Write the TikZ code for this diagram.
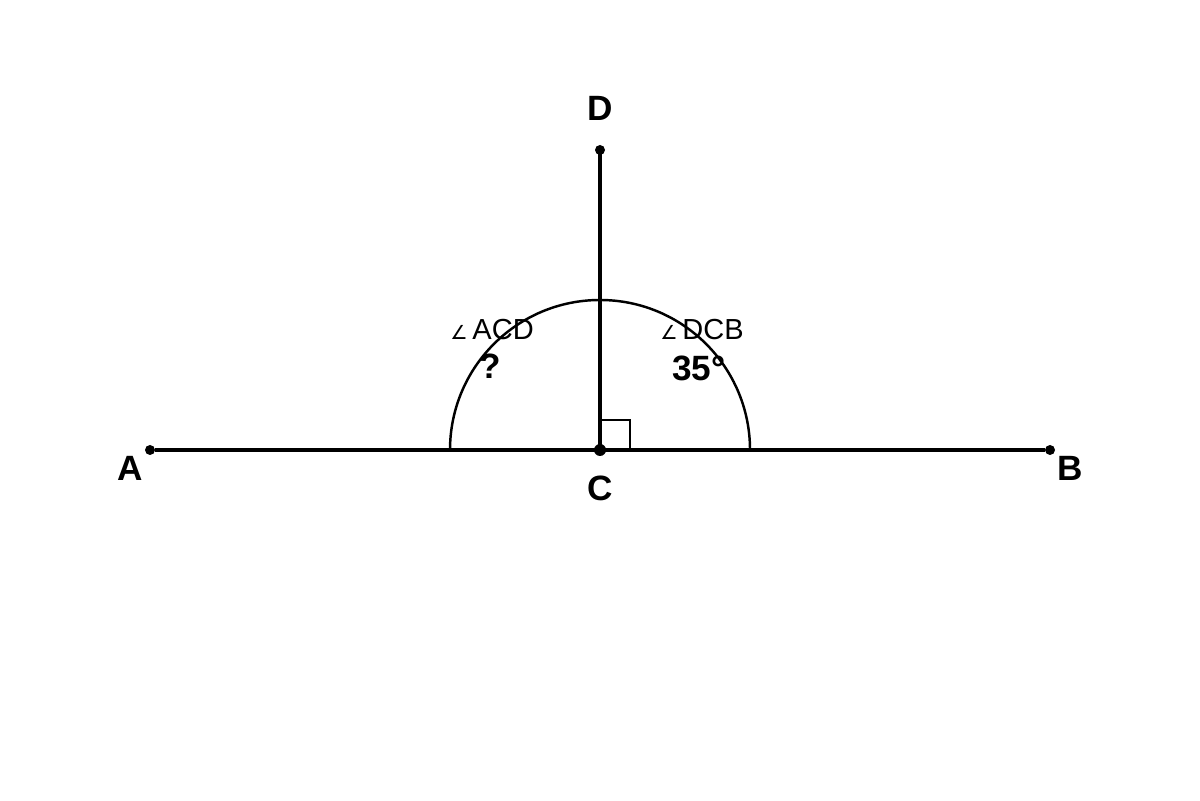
\documentclass[tikz,border=0pt]{standalone}
\usepackage{fontspec}
\setmainfont{Liberation Sans}
\newfontfamily\symfont{DejaVu Sans}
\usepackage{tikz}

\begin{document}
\begin{tikzpicture}[pt/.style={circle,fill=black,inner sep=0pt,minimum size=0.2cm},
    lbl/.style={font=\fontsize{20}{23}\selectfont\bfseries},
    ang/.style={font=\fontsize{16.5}{19}\selectfont}]

    \useasboundingbox (0,0) rectangle (24,16);

    % Nodes
    \node[pt] (a) at (3,7) {};
    \node[pt] (b) at (21,7) {};
    \node[pt,minimum size=0.24cm] (c) at (12,7) {};
    \node[pt] (d) at (12,13) {};

    \node[lbl] (la) at (2.6,6.64) {A};
    \node[lbl] (lb) at (21.4,6.64) {B};
    \node[lbl] (lc) at (12,6.24) {C};
    \node[lbl] (ld) at (12,13.84) {D};

    \node[ang] (acd) at (9.84,9.4) {{\symfont\fontsize{11}{12}\selectfont ∠}\,ACD};
    \node[lbl] (q) at (9.8,8.68) {?};
    \node[ang] (dcb) at (14.04,9.4) {{\symfont\fontsize{11}{12}\selectfont ∠}\,DCB};
    \node[lbl] (v) at (13.98,8.64) {35°};

    % Edges
    \draw[line width=2.2pt] (a) -- (b);
    \draw[line width=2.2pt] (c.center) -- (d.center);
    \draw[line width=1.4pt] (15,7) arc (0:180:3);
    \draw[line width=0.8pt] (12,7.6) -- (12.6,7.6) -- (12.6,7);

\end{tikzpicture}
\end{document}
